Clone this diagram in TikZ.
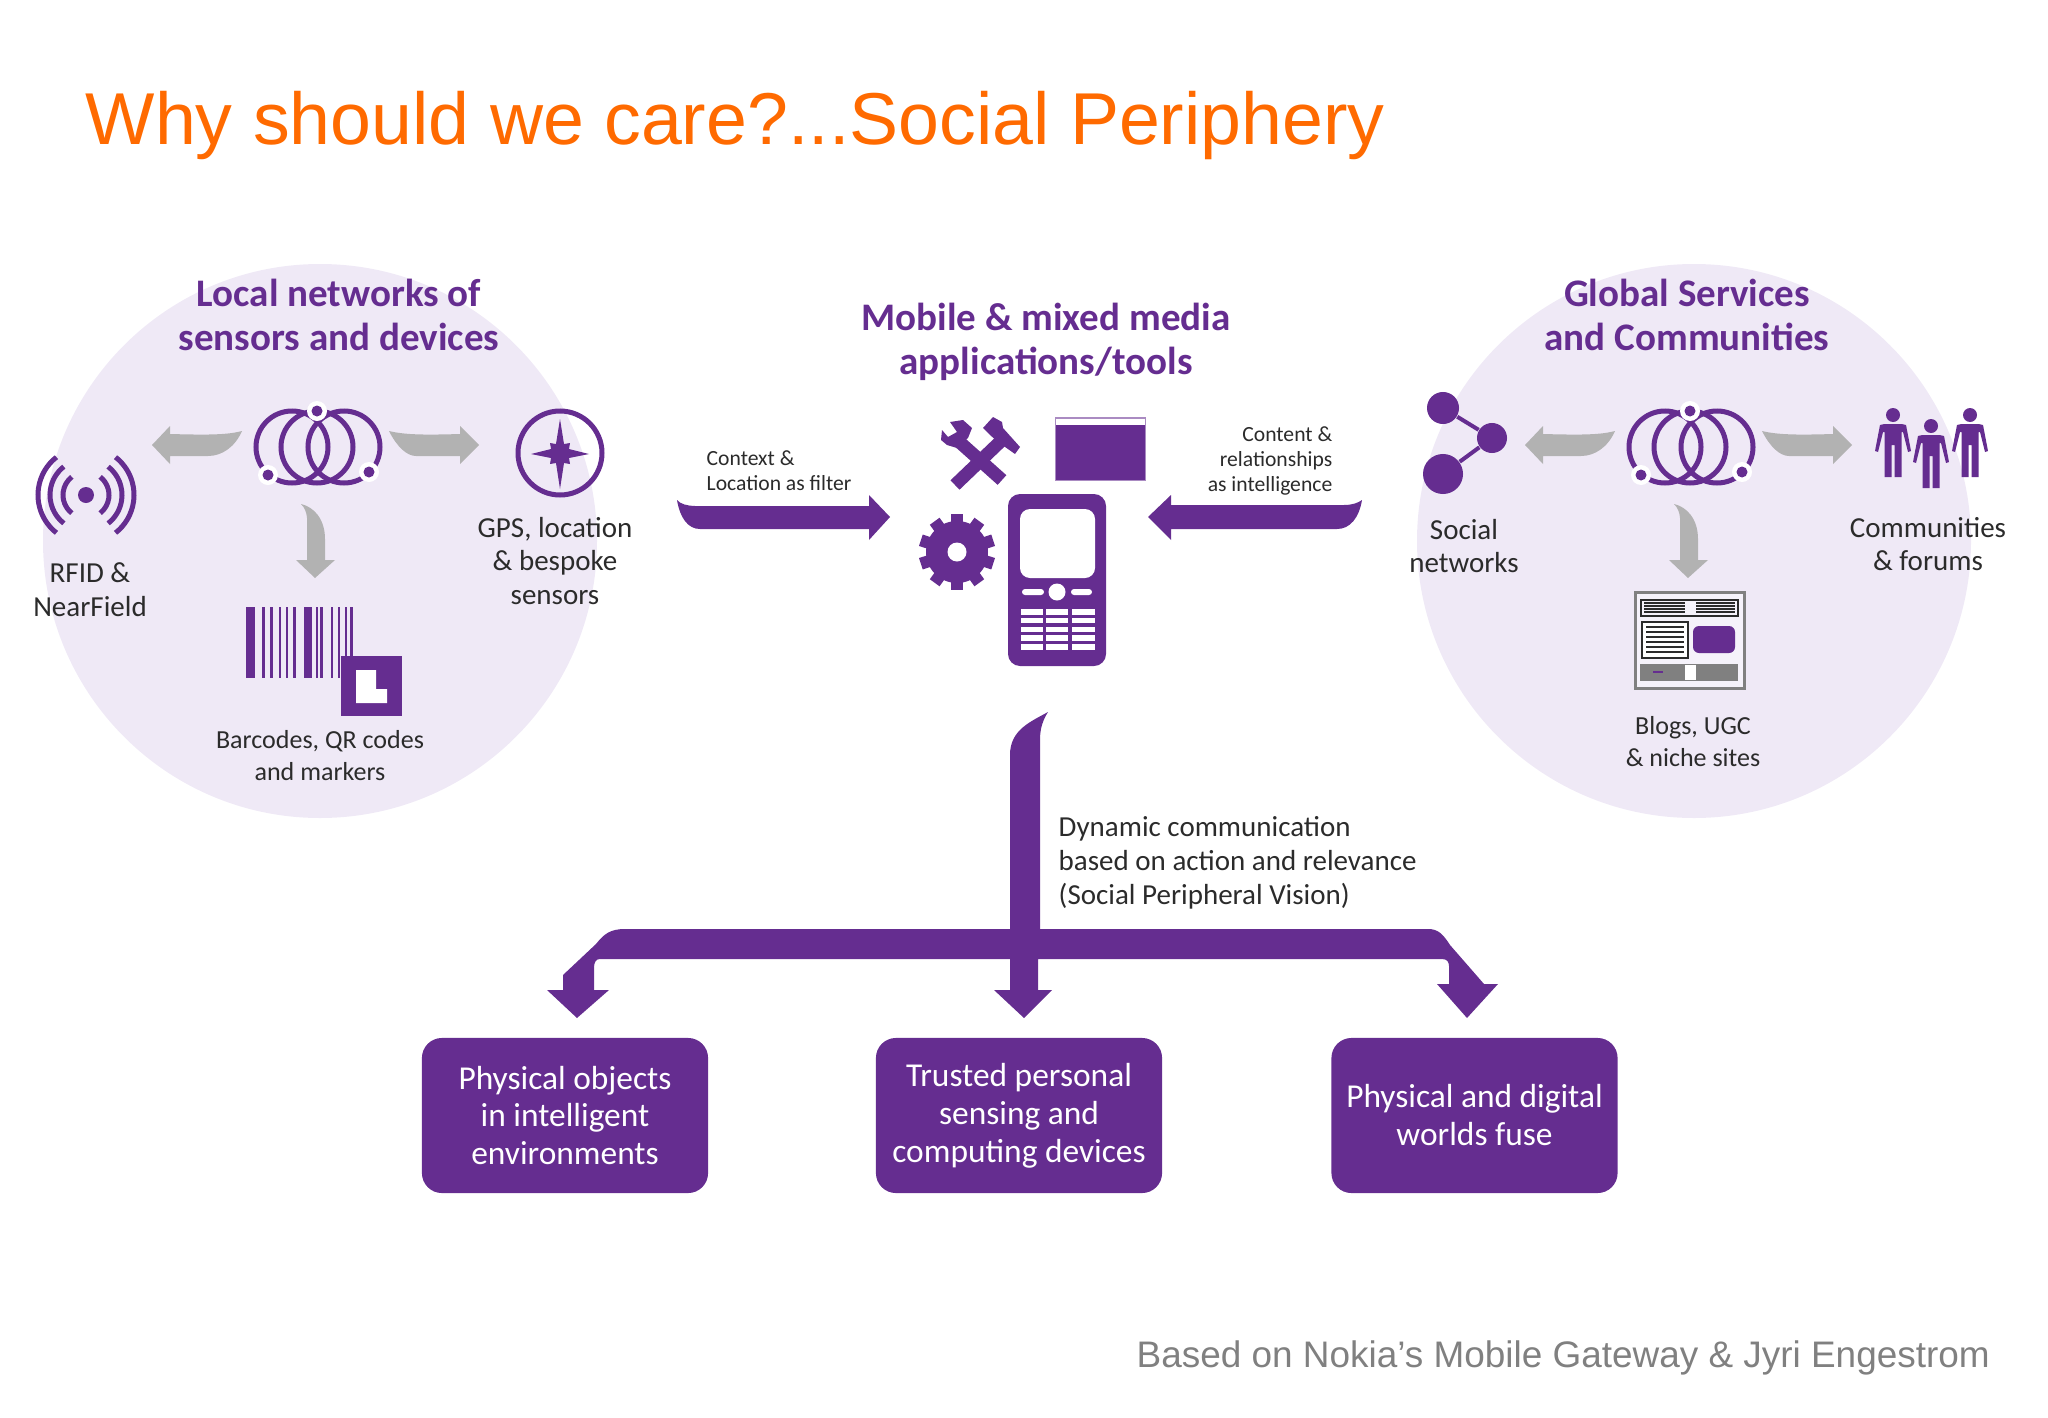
\documentclass[tikz,border=0pt]{standalone}
\usepackage{fontspec}
\setmainfont{Carlito}
\newfontfamily\slidefont{Liberation Sans}
\usetikzlibrary{arrows.meta}
\definecolor{nokiapurple}{HTML}{652D90}
\definecolor{circlefill}{HTML}{EFE9F6}
\definecolor{arrowgray}{HTML}{B2B2B2}
\definecolor{labeltext}{HTML}{2B2B2B}
\definecolor{slideorange}{HTML}{FF6A00}
\definecolor{footgray}{HTML}{808080}

\begin{document}
\begin{tikzpicture}[x=0.01cm, y=-0.01cm,
    heading/.style = {font=\fontsize{11.1}{12.5}\selectfont\bfseries, text=nokiapurple, align=center, inner sep=0pt},
    label/.style = {font=\fontsize{8.25}{9.6}\selectfont, text=labeltext, align=center, inner sep=0pt},
    iconlabel/.style = {font=\fontsize{7.4}{9.1}\selectfont, text=labeltext, align=center, inner sep=0pt},
    smalllabel/.style = {font=\fontsize{6.15}{7.1}\selectfont, text=labeltext, inner sep=0pt},
    outcome/.style = {fill=nokiapurple, rounded corners=0.2cm, minimum width=2.86cm, minimum height=1.55cm, text=white, align=center, inner sep=0pt, font=\fontsize{9.5}{10.8}\selectfont},
    ringline/.style = {draw=nokiapurple, line width=0.05cm},
    solid purple/.style = {fill=nokiapurple, draw=none},
    rings/.pic = {
        \foreach \cx in {-25,0,27}
            \draw[ringline] (\cx,0) circle[radius=36];
        \foreach \dx/\dy in {0/-36,-49/28,52/25} {
            \fill[white] (\dx,\dy) circle[radius=10];
            \fill[nokiapurple] (\dx,\dy) circle[radius=5.5];
        }
        % grey arrows
        \fill[arrowgray] (-165,-2) -- (-147,-21) -- (-147,-13) .. controls (-110,-12) and (-90,-12) .. (-75,-16)
            .. controls (-82,0) and (-95,9) .. (-109,9) -- (-147,9) -- (-147,17) -- cycle;
        \fill[arrowgray] (162,-2) -- (143,-21) -- (143,-13) .. controls (110,-12) and (88,-12) .. (72,-16)
            .. controls (80,0) and (90,9) .. (99,9) -- (143,9) -- (143,17) -- cycle;
        \fill[arrowgray] (-2,131) -- (18,113) -- (8,113) -- (8,92) .. controls (8,72) and (-3,60) .. (-16,57)
            .. controls (-8,65) and (-10,75) .. (-10,90) -- (-10,113) -- (-21,113) -- cycle;
    },
    person/.pic = {
        \fill[nokiapurple] (0,0) circle[radius=7];
        \fill[nokiapurple] (-8.5,9) -- (8.5,9) -- (13,10) -- (18,36) -- (15,37) -- (10,17) -- (8.5,17) -- (8.5,62) -- (1.5,62) -- (1.5,30)
            -- (-1.5,30) -- (-1.5,62) -- (-8.5,62) -- (-8.5,17) -- (-10,17) -- (-15,37) -- (-18,36) -- (-13,10) -- cycle;
    }]

    \useasboundingbox (0,0) rectangle (2048,1418);

    % slide title and footer
    \node[anchor=base west, inner sep=0pt, text=slideorange, font=\fontsize{20.9}{25}\selectfont\slidefont] (title) at (85,144) {Why should we care?...Social Periphery};
    \node[anchor=base west, inner sep=0pt, text=footgray, font=\fontsize{10.5}{12}\selectfont\slidefont] (source) at (1136,1367) {Based on Nokia’s Mobile Gateway \& Jyri Engestrom};

    % background circles
    \fill[circlefill] (320,541) circle[radius=277];
    \fill[circlefill] (1694,541) circle[radius=277];

    % headings
    \node[heading] (localhead) at (339,315) {Local networks of\\sensors and devices};
    \node[heading] (mobilehead) at (1046,342) {Mobile \& mixed media\\applications/tools};
    \node[heading] (globalhead) at (1687,315) {Global Services\\and Communities};

    % left circle
    \pic at (317,447) {rings};
    \fill[nokiapurple] (86,495) circle[radius=8];
    \foreach \r in {23,36,48} {
        \draw[ringline] (86,495) ++(128:\r) arc[start angle=128, end angle=232, radius=\r];
        \draw[ringline] (86,495) ++(-52:\r) arc[start angle=-52, end angle=52, radius=\r];
    }
    \node[label] (rfid) at (90,590) {RFID \&\\NearField};
    \draw[ringline] (560,453) circle[radius=42];
    \fill[nokiapurple] (560,419) -- (564,444) -- (570,443) -- (569,449) -- (589,454) -- (569,458) -- (570,464) -- (564,463)
        -- (560,489) -- (556,463) -- (550,464) -- (551,458) -- (531,454) -- (551,449) -- (550,443) -- (556,444) -- cycle;
    \node[label] (gps) at (555,561) {GPS, location\\\& bespoke\\sensors};
    \foreach \xa/\xb in {245.9/254.6,262.4/265.4,269.7/273.2,278.8/281,286.2/288.4,292.7/295.8,303.6/312.2,315.7/317.9,320/323,330.9/333,338.2/340.4,344.8/346.9,350.4/352.6}
        \fill[nokiapurple] (\xa,607) rectangle (\xb,678);
    \fill[nokiapurple] (341,656) rectangle (402,716);
    \fill[white] (356,670) -- (376,670) -- (376,689) -- (387,689) -- (387,703) -- (356,703) -- cycle;
    \node[iconlabel] (barcodes) at (320,756) {Barcodes, QR codes\\and markers};

    % middle: tools, window, gear, phone
    \draw[nokiapurple, line width=0.13cm] (955,438) -- (1002,480);
    \draw[nokiapurple, line width=0.13cm] (955,485) -- (1002,440);
    \fill[nokiapurple] (993,417) -- (1002,422) -- (1003,428) -- (1020,447) -- (1015,454) -- (998,442) -- (990,435) -- (983,428) -- cycle;
    \fill[nokiapurple] (950,422) -- (963,420) -- (972,428) -- (968,438) -- (957,448) -- (947,445) -- (941,440) -- (942,430) -- (948,437) -- (957,432) -- cycle;
    \fill[nokiapurple!55] (1055,417) rectangle (1146,481);
    \fill[white] (1056,419) rectangle (1145,425);
    \fill[nokiapurple] (1056,425) rectangle (1145,480);
    \fill[nokiapurple] (957,552) circle[radius=31];
    \foreach \a in {0,36,...,324}
        \fill[nokiapurple, rotate around={\a:(957,552)}] (951,514) rectangle (963,530);
    \fill[white] (957,552) circle[radius=9.5];
    \fill[nokiapurple, rounded corners=0.12cm] (1008,494) rectangle (1106,666);
    \fill[white, rounded corners=0.1cm] (1020,509) rectangle (1095,578);
    \fill[white] (1057,592) circle[radius=8.5];
    \fill[white, rounded corners=0.03cm] (1022,589) rectangle (1044,595);
    \fill[white, rounded corners=0.03cm] (1071,589) rectangle (1092,595);
    \foreach \ya/\yb in {609/615,618/623,627/632,635/641,644/650} {
        \foreach \xa/\xb in {1021/1043,1046/1068,1072/1095}
            \fill[white] (\xa,\ya) rectangle (\xb,\yb);
    }

    % context arrows
    \fill[nokiapurple] (890,517) -- (869,495) -- (869,506) -- (695,506) .. controls (688,506) and (680,504) .. (677,500)
        .. controls (680,518) and (688,529) .. (700,529) -- (869,529) -- (869,540) -- cycle;
    \fill[nokiapurple] (1148,517) -- (1171,495) -- (1171,505) -- (1344,505) .. controls (1352,505) and (1358,503) .. (1362,500)
        .. controls (1359,518) and (1350,529) .. (1337,529) -- (1171,529) -- (1171,540) -- cycle;
    \node[smalllabel, anchor=west, align=left] (contextlabel) at (706,471) {Context \&\\Location as filter};
    \node[smalllabel, anchor=east, align=right] (contentlabel) at (1333,461) {Content \&\\relationships\\as intelligence};

    % right circle
    \pic at (1690,447) {rings};
    \node[circle, solid purple, minimum size=0.32cm, inner sep=0pt] (nettop) at (1443,408) {};
    \node[circle, solid purple, minimum size=0.30cm, inner sep=0pt] (nethub) at (1492,438) {};
    \node[circle, solid purple, minimum size=0.40cm, inner sep=0pt] (netlow) at (1443,474) {};
    \draw[nokiapurple, line width=0.04cm] (nettop) -- (nethub) -- (netlow);
    \node[label] (social) at (1464,546) {Social\\networks};
    \pic at (1893,415) {person};
    \pic at (1931,426) {person};
    \pic at (1970,415) {person};
    \node[label] (communities) at (1928,544) {Communities\\\& forums};

    % blog page
    \draw[footgray, line width=0.03cm, fill=white!40!circlefill] (1635,592) rectangle (1744,688);
    \draw[labeltext, line width=0.015cm] (1641,600) rectangle (1738,616);
    \foreach \y in {603,606,609,612} {
        \draw[labeltext, line width=0.015cm] (1644,\y) -- (1685,\y);
        \draw[labeltext, line width=0.015cm] (1696,\y) -- (1735,\y);
    }
    \draw[labeltext, line width=0.02cm, fill=white] (1642,622) rectangle (1688,658);
    \foreach \y in {627,632,637,642,647,652}
        \draw[labeltext, line width=0.012cm] (1646,\y) -- (1684,\y);
    \fill[nokiapurple, rounded corners=0.06cm] (1693,626) rectangle (1735,653);
    \draw[footgray, line width=0.02cm, fill=footgray] (1641,665) rectangle (1737,680);
    \fill[white] (1685,665) rectangle (1696,680);
    \fill[nokiapurple] (1653,671) rectangle (1663,673);
    \node[iconlabel] (blogs) at (1693,742) {Blogs, UGC\\\& niche sites};

    % tree arrow
    \fill[nokiapurple] (1048,712) .. controls (1030,722) and (1010,730) .. (1010,755) -- (1010,929) -- (625,929)
        .. controls (610,929) and (604,934) .. (596,944) -- (563,975) -- (563,990) -- (547,990) -- (577,1018) -- (609,990)
        -- (594,990) -- (594,968) .. controls (594,962) and (596,959) .. (600,959) -- (1010,959) -- (1010,990) -- (994,990) -- (1024,1018)
        -- (1052,990) -- (1038,990) -- (1038,959) -- (1442,959) .. controls (1447,959) and (1449,962) .. (1449,966) -- (1449,984)
        -- (1437,984) -- (1467,1018) -- (1498,984) -- (1484,984) -- (1450,945) .. controls (1443,934) and (1438,929) .. (1428,929)
        -- (1040,929) -- (1040,740) .. controls (1040,728) and (1043,720) .. (1048,712) -- cycle;
    \node[label, anchor=west, align=left] (dynamic) at (1058,863) {Dynamic communication\\based on action and relevance\\(Social Peripheral Vision)};

    % outcome boxes
    \node[outcome] (objects) at (565,1115.5) {Physical objects\\in intelligent\\environments};
    \node[outcome] (devices) at (1019,1115.5) {Trusted personal\\sensing and\\computing devices};
    \node[outcome] (worlds) at (1474.5,1115.5) {Physical and digital\\worlds fuse};

\end{tikzpicture}
\end{document}
